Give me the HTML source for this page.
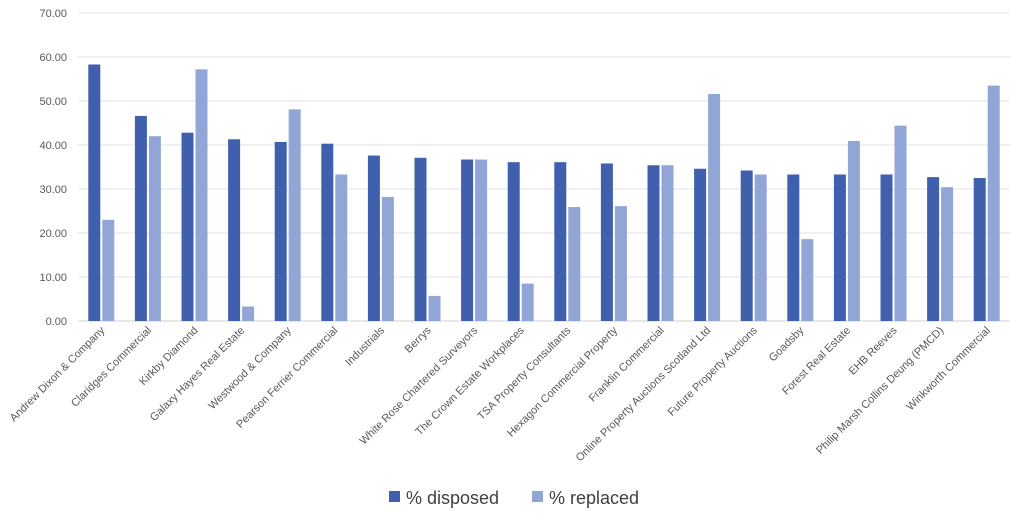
<!DOCTYPE html>
<html><head><meta charset="utf-8"><style>
body{margin:0;background:#fff;}
svg{font-family:"Liberation Sans",sans-serif;}
</style></head><body>
<svg id="chart" width="1024" height="520"></svg>
<script>
const categories=["Andrew Dixon & Company","Claridges Commercial","Kirkby Diamond","Galaxy Hayes Real Estate","Westwood & Company","Pearson Ferrier Commercial","Industrials","Berrys","White Rose Chartered Surveyors","The Crown Estate Workplaces","TSA Property Consultants","Hexagon Commercial Property","Franklin Commercial","Online Property Auctions Scotland Ltd","Future Property Auctions","Goadsby","Forest Real Estate","EHB Reeves","Philip Marsh Collins Deung (PMCD)","Winkworth Commercial"];
const disposed=[58.3,46.6,42.8,41.3,40.7,40.3,37.6,37.1,36.7,36.1,36.1,35.8,35.4,34.6,34.2,33.3,33.3,33.3,32.7,32.5];
const replaced=[23.0,42.0,57.2,3.3,48.1,33.3,28.2,5.7,36.7,8.5,25.9,26.1,35.4,51.6,33.3,18.6,40.9,44.4,30.4,53.5];
const yTicks=[0,10,20,30,40,50,60,70];
const yTickLabels=["0.00","10.00","20.00","30.00","40.00","50.00","60.00","70.00"];
const NS="http://www.w3.org/2000/svg";
const svg=document.getElementById('chart');
const x0=78,x1=1010,yTop=13,yBot=321,yMax=70;
const y=v=>yBot-(v/yMax)*(yBot-yTop);
const bw=(x1-x0)/categories.length;
const xc=i=>x0+bw*(i+0.5);
function mk(t,a,txt){const e=document.createElementNS(NS,t);for(const k in a)e.setAttribute(k,a[k]);if(txt!==undefined)e.textContent=txt;svg.appendChild(e);return e;}
yTicks.forEach((t,i)=>{
  const l=mk('line',{x1:x0,x2:x1,y1:y(t),y2:y(t),stroke:i===0?'#d0d0d0':'#e3e3e3','stroke-width':1});
  
  
  const tx=mk('text',{x:67,y:y(t)+4,'text-anchor':'end','font-size':11,fill:'#595959'},yTickLabels[i]);
  
  
});
categories.forEach((c,i)=>{
  const cx=xc(i);
  const r1=mk('rect',{x:cx-13,y:y(disposed[i]),width:12,height:yBot-y(disposed[i]),fill:'#4060ae'});
  
  
  const r2=mk('rect',{x:cx+1,y:y(replaced[i]),width:12,height:yBot-y(replaced[i]),fill:'#91a5d7'});
  
  
  const t=mk('text',{x:cx+4,y:331,'text-anchor':'end','font-size':11,fill:'#595959',transform:`rotate(-45 ${cx+4} 331)`},c);
  
  
});
const g=[[389,'#4060ae','% disposed'],[532,'#91a5d7','% replaced']];
g.forEach(([lx,col,lab])=>{
  const r=mk('rect',{x:lx,y:491,width:11,height:11,fill:col});
  
  
  const t=mk('text',{x:lx+17,y:504,'font-size':18,fill:'#404040'},lab);
  
  
});
</script>
</body></html>
